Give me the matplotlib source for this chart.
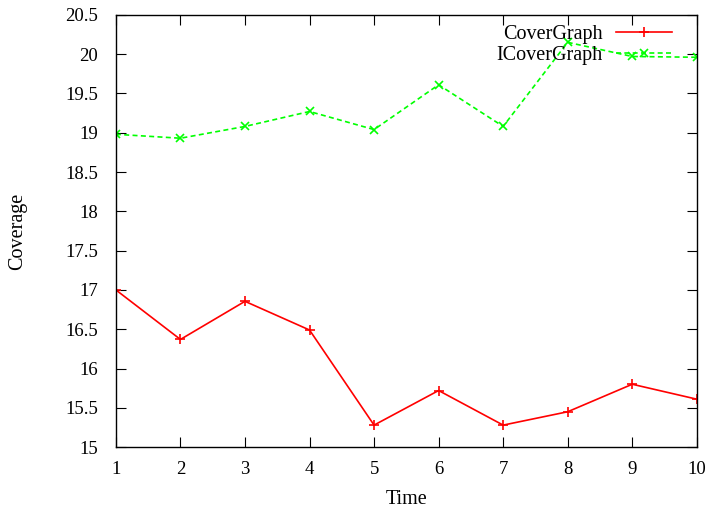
import numpy as np
import matplotlib.pyplot as plt

plt.rcParams['font.family'] = ['Liberation Serif', 'DejaVu Serif']

time = [1, 2, 3, 4, 5, 6, 7, 8, 9, 10]
cover_graph = [17.0, 16.37, 16.855, 16.49, 15.28, 15.72, 15.28, 15.45, 15.80, 15.61]
icover_graph = [18.98, 18.93, 19.08, 19.27, 19.04, 19.61, 19.08, 20.15, 19.97, 19.96]

yticks = [15, 15.5, 16, 16.5, 17, 17.5, 18, 18.5, 19, 19.5, 20, 20.5]
ytick_labels = ['15', '15.5', '16', '16.5', '17', '17.5', '18', '18.5', '19', '19.5', '20', '20.5']

fig = plt.figure(figsize=(7.11, 5.11), dpi=100)
ax = fig.add_axes([0.163, 0.125, 0.817, 0.846])

ax.plot(time, cover_graph, color='#ff0000', lw=1.2, marker='+', ms=7, mew=1.2,
        label='CoverGraph')
ax.plot(time, icover_graph, color='#00ff00', lw=1.2, ls=(0, (3, 2)), marker='x',
        ms=6, mew=1.2, label='ICoverGraph')

ax.set_xlim(1, 10)
ax.set_ylim(15, 20.5)
ax.set_xticks(time)
ax.set_yticks(yticks)
ax.set_yticklabels(ytick_labels)
ax.tick_params(direction='in', length=7, width=0.8, top=True, right=True,
               labelsize=13.5)
ax.tick_params(axis='y', pad=13)
ax.tick_params(axis='x', pad=10)
for s in ax.spines.values():
    s.set_linewidth(1.0)

ax.set_xlabel('Time', fontsize=14.5, va='center')
ax.set_ylabel('Coverage', fontsize=14.5, va='center')
ax.xaxis.set_label_coords(0.5, -0.12)
ax.yaxis.set_label_coords(-0.169, 0.5)

leg = ax.legend(loc='upper right', frameon=False, markerfirst=False, fontsize=14.5,
                handlelength=2.75, handletextpad=0.7, labelspacing=0.1,
                borderaxespad=0.0, bbox_to_anchor=(0.971, 0.995))
for t in leg.get_texts():
    t.set_ha('right')

fig.savefig('out.png', dpi=100)
